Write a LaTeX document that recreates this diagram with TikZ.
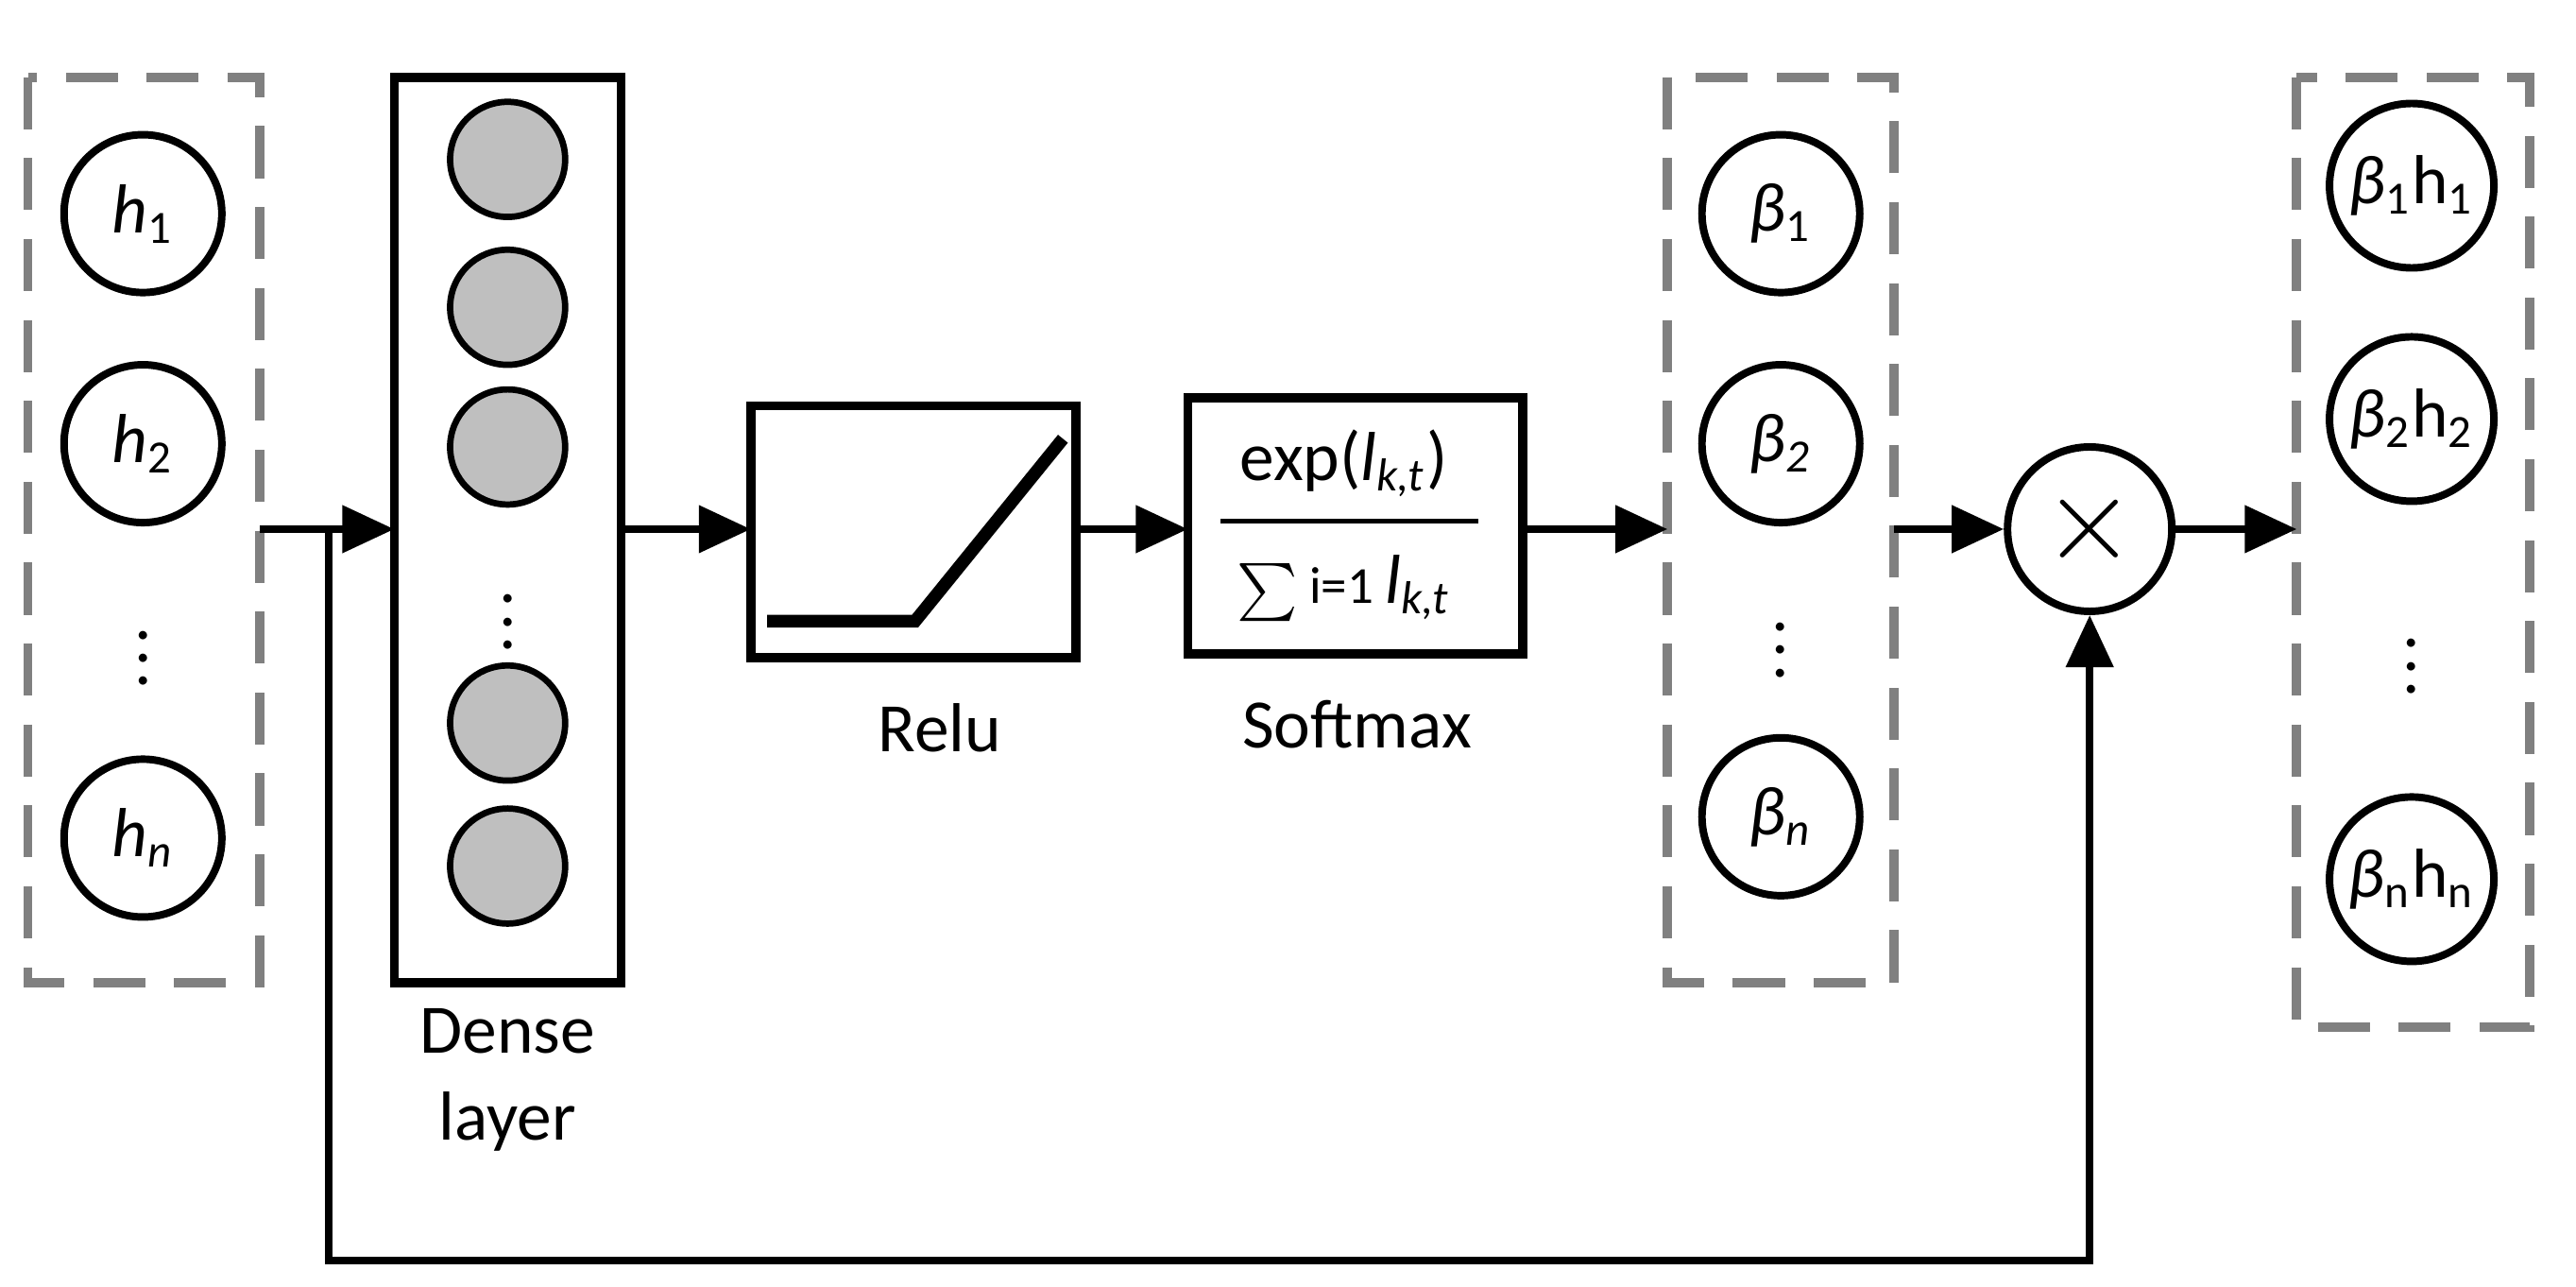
\documentclass[tikz,border=0pt]{standalone}
\usepackage{fontspec}
\setmainfont{Carlito}
\usetikzlibrary{arrows.meta}
\newcommand{\sbs}[1]{\textsubscript{#1}}
\begin{document}
\begin{tikzpicture}[x=0.01cm,y=-0.01cm,
  font=\fontsize{12}{15}\selectfont,
  dbox/.style={draw=gray,dashed,line width=1.6pt,dash pattern=on 9pt off 5pt},
  sbox/.style={draw,line width=1.6pt},
  circ/.style={draw,circle,line width=1.3pt,minimum size=0.96cm,inner sep=0pt},
  gcirc/.style={draw,circle,fill=gray!50,line width=1.1pt,minimum size=0.7cm,inner sep=0pt},
  arr/.style={line width=1.3pt,-{Triangle[length=9pt,width=8pt]}},
  ln/.style={line width=1.3pt}]
\useasboundingbox (0,0) rectangle (1568,783);
\draw[dbox] (17,47) rectangle (158,598);
\node[circ] (h1) at (87,130) {\textit{h}\sbs{1}};
\node[circ] (h2) at (87,270) {\textit{h}\sbs{2}};
\node (hd) at (87,390) {$\vdots$};
\node[circ] (hn) at (87,510) {\textit{h}\sbs{\textit{n}}};
\draw[sbox] (240,47) rectangle (378,598);
\node[gcirc] (g1) at (309,97) {};
\node[gcirc] (g2) at (309,187) {};
\node[gcirc] (g3) at (309,272) {};
\node (gd) at (309,368) {$\vdots$};
\node[gcirc] (g4) at (309,440) {};
\node[gcirc] (g5) at (309,527) {};
\node[align=center] (dl) at (309,657) {Dense\\layer};
\draw[sbox] (457,247) rectangle (655,400);
\draw[line width=2.2pt] (467,378) -- (557,378) -- (647,267);
\node (relu) at (572,443) {Relu};
\draw[sbox] (723,242) rectangle (927,398);
\draw[line width=0.8pt] (743,317) -- (900,317);
\node (num) at (818,282) {exp(\textit{l}\sbs{\textit{k,t}})};
\node (den) at (818,358) {$\scriptstyle\sum$\,{\fontsize{9}{10}\selectfont i=1}\,\textit{l}\sbs{\textit{k,t}}};
\node (sm) at (826,441) {Softmax};
\draw[dbox] (1015,47) rectangle (1153,598);
\node[circ] (b1) at (1084,130) {\textit{β}\sbs{1}};
\node[circ] (b2) at (1084,270) {\textit{β}\sbs{\textit{2}}};
\node (bd) at (1084,385) {$\vdots$};
\node[circ] (bn) at (1084,497) {\textit{β}\sbs{\textit{n}}};
\node[circ,minimum size=1cm] (mul) at (1272,322) {\fontsize{22}{22}\selectfont$\times$};
\draw[dbox] (1398,47) rectangle (1540,625);
\node[circ,minimum size=1cm] (r1) at (1468,113) {\textit{β}\sbs{1}h\sbs{1}};
\node[circ,minimum size=1cm] (r2) at (1468,255) {\textit{β}\sbs{2}h\sbs{2}};
\node (rd) at (1468,395) {$\vdots$};
\node[circ,minimum size=1cm] (rn) at (1468,535) {\textit{β}\sbs{n}h\sbs{n}};
\coordinate (a0) at (158,322); \coordinate (a1) at (240,322);
\coordinate (a2) at (378,322); \coordinate (a3) at (457,322);
\coordinate (a4) at (655,322); \coordinate (a5) at (723,322);
\coordinate (a6) at (927,322); \coordinate (a7) at (1015,322);
\coordinate (a8) at (1153,322); \coordinate (a9) at (1398,322);
\coordinate (fb) at (200,322);
\draw[arr] (a0) -- (a1);
\draw[arr] (a2) -- (a3);
\draw[arr] (a4) -- (a5);
\draw[arr] (a6) -- (a7);
\draw[arr] (a8) -- (mul.west);
\draw[arr] (mul.east) -- (a9);
\draw[arr] (fb) -- (200,767) -- (1272,767) -- (mul.south);
\end{tikzpicture}
\end{document}
